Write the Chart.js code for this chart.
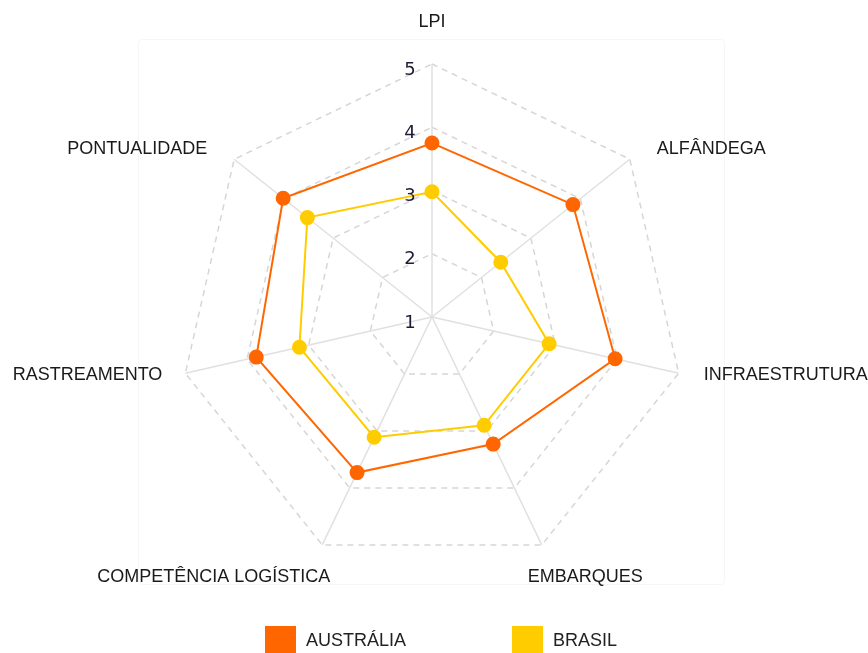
<!DOCTYPE html>
<html lang="pt">
<head>
  <meta charset="UTF-8">
  <title>LPI Austrália x Brasil</title>
  <script src="https://cdn.jsdelivr.net/npm/chart.js"></script>
  <style>
    html, body { margin: 0; padding: 0; overflow: hidden; background: #fff; }
    #wrap { position: relative; width: 868px; height: 653px; }
    #frame { position: absolute; left: 138px; top: 39px; width: 585px; height: 544px;
             border: 1px solid #f6f6f6; border-radius: 4px; }
    #chartCanvas { position: absolute; left: 0; top: 0; }
    .legend-item { position: absolute; top: 626px; height: 28px; display: flex; align-items: center;
                   font: 18px "Liberation Sans", Arial, sans-serif; color: #222; }
    .legend-box { width: 31px; height: 28px; margin-right: 10px; }
  </style>
</head>
<body>
  <div id="wrap">
    <div id="frame"></div>
    <canvas id="chartCanvas" width="868" height="653"></canvas>
    <div id="legend"></div>
  </div>

  <script>
    // data
    const categories = ['LPI', 'ALFÂNDEGA', 'INFRAESTRUTURA', 'EMBARQUES', 'COMPETÊNCIA LOGÍSTICA', 'RASTREAMENTO', 'PONTUALIDADE'];
    const australia = [3.75, 3.85, 3.97, 3.23, 3.73, 3.85, 4.01];
    const brasil = [2.98, 2.39, 2.90, 2.90, 3.11, 3.15, 3.52];
    const tickLabels = ['1', '2', '3', '4', '5'];
    const seriesNames = ['AUSTRÁLIA', 'BRASIL'];
    const seriesColors = ['#ff6600', '#ffcc00'];

    // label placement relative to the outer vertex of each axis
    const labelPlacement = [
      { dx: 0, dy: -42, align: 'center' },
      { dx: 27, dy: -10, align: 'left' },
      { dx: 25, dy: 2, align: 'left' },
      { dx: -14, dy: 32, align: 'left' },
      { dx: 8, dy: 32, align: 'right' },
      { dx: -23, dy: 2, align: 'right' },
      { dx: -27, dy: -10, align: 'right' }
    ];

    const radarLabels = {
      id: 'radarLabels',
      afterDatasetsDraw(chart) {
        const scale = chart.scales.r;
        const ctx = chart.ctx;
        ctx.save();
        // axis names
        ctx.font = '18px "Liberation Sans", Arial, sans-serif';
        ctx.fillStyle = '#1a1a1a';
        ctx.textBaseline = 'middle';
        categories.forEach((name, i) => {
          const p = scale.getPointPosition(i, scale.drawingArea);
          const pl = labelPlacement[i];
          ctx.textAlign = pl.align;
          ctx.fillText(name, p.x + pl.dx, p.y + pl.dy);
        });
        // tick values, left of the vertical axis
        ctx.font = '18px "DejaVu Sans", Verdana, sans-serif';
        ctx.fillStyle = '#1c1c36';
        ctx.textAlign = 'center';
        scale.ticks.forEach((t, i) => {
          const d = scale.getDistanceFromCenterForValue(t.value);
          ctx.fillText(tickLabels[i], scale.xCenter - 22, scale.yCenter - d + 6);
        });
        ctx.restore();
      }
    };

    new Chart(document.getElementById('chartCanvas').getContext('2d'), {
      type: 'radar',
      data: {
        labels: categories,
        datasets: [
          {
            label: seriesNames[0],
            data: australia,
            borderColor: seriesColors[0],
            backgroundColor: seriesColors[0],
            pointBackgroundColor: seriesColors[0],
            pointBorderColor: seriesColors[0],
            borderWidth: 2,
            pointRadius: 6.5,
            fill: false
          },
          {
            label: seriesNames[1],
            data: brasil,
            borderColor: seriesColors[1],
            backgroundColor: seriesColors[1],
            pointBackgroundColor: seriesColors[1],
            pointBorderColor: seriesColors[1],
            borderWidth: 2,
            pointRadius: 6.5,
            fill: false
          }
        ]
      },
      options: {
        responsive: false,
        animation: false,
        layout: { padding: { top: 64, bottom: 83, left: 0, right: 4 } },
        plugins: { legend: { display: false }, tooltip: { enabled: false } },
        scales: {
          r: {
            min: 1,
            max: 5,
            ticks: { display: false, stepSize: 1 },
            pointLabels: { display: false },
            grid: { color: '#d6d6d6', lineWidth: 1.5 },
            border: { dash: [6, 5] },
            angleLines: { color: '#e0e0e0', lineWidth: 1.5 }
          }
        }
      },
      plugins: [radarLabels]
    });

    // legend below the chart
    const legendLeft = [265, 512];
    const legendDiv = document.getElementById('legend');
    seriesNames.forEach((name, i) => {
      const item = document.createElement('div');
      item.className = 'legend-item';
      item.style.left = legendLeft[i] + 'px';
      item.innerHTML = `<span class="legend-box" style="background:${seriesColors[i]}"></span>${name}`;
      legendDiv.appendChild(item);
    });
  </script>
</body>
</html>
